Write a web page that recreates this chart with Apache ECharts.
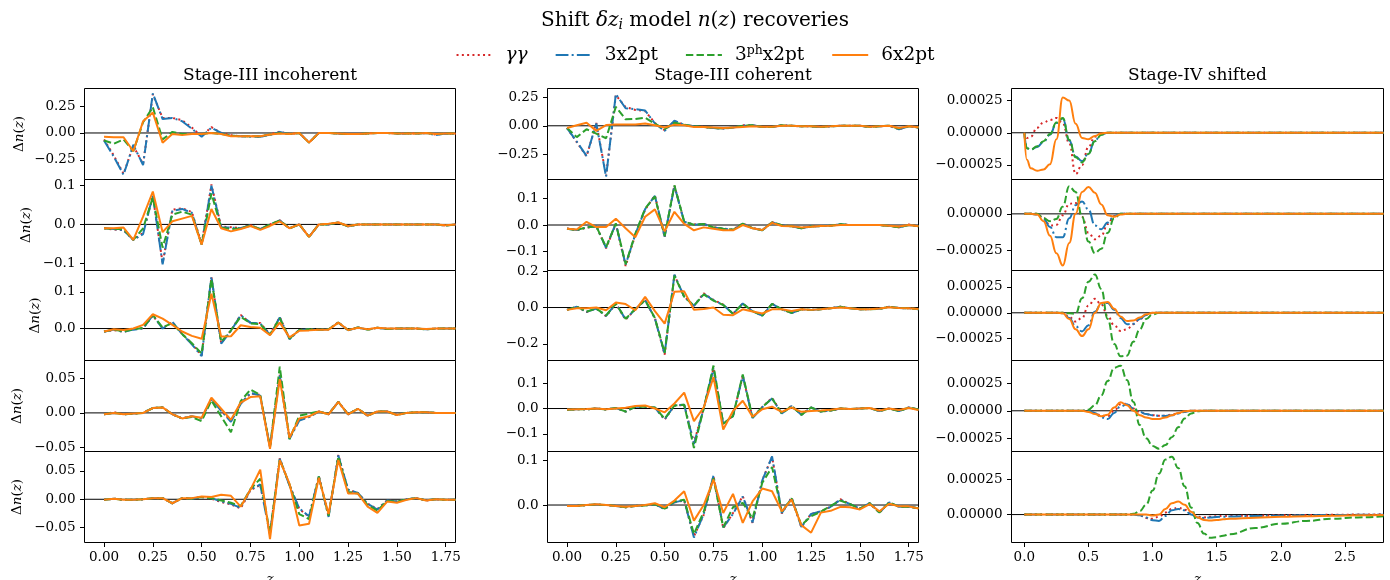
<!DOCTYPE html>
<html>
<head>
<meta charset="utf-8">
<title>Shift δz_i model n(z) recoveries</title>
<script src="https://cdn.jsdelivr.net/npm/echarts/dist/echarts.min.js"></script>
<style>
  html, body { margin: 0; padding: 0; background: #fff; }
  #chart { width: 1390px; height: 580px; }
</style>
</head>
<body>
<div id="chart"></div>
<script>
// ---------------------------------------------------------------------------
// Redshift grids
// ---------------------------------------------------------------------------
const Z_STAGE3 = [0, 0.05, 0.1, 0.15, 0.2, 0.25, 0.3, 0.35, 0.4, 0.45, 0.5, 0.55, 0.6, 0.65, 0.7, 0.75,
  0.8, 0.85, 0.9, 0.95, 1.0, 1.05, 1.1, 1.15, 1.2, 1.25, 1.3, 1.35, 1.4, 1.45, 1.5, 1.55, 1.6, 1.65,
  1.7, 1.75, 1.8];
const Z_STAGE4 = [0, 0.02, 0.05, 0.1, 0.15, 0.2, 0.25, 0.3, 0.35, 0.4, 0.45, 0.5, 0.55, 0.6, 0.65, 0.7,
  0.75, 0.8, 0.85, 0.9, 0.95, 1.0, 1.05, 1.1, 1.15, 1.2, 1.25, 1.3, 1.35, 1.4, 1.45, 1.5, 1.55, 1.6,
  1.8, 2.0, 2.2, 2.4, 2.6, 2.8];

const SERIES_NAMES = ['γγ', '3x2pt', '3phx2pt', '6x2pt'];
const COLUMN_TITLES = ['Stage-III incoherent', 'Stage-III coherent', 'Stage-IV shifted'];

// ---------------------------------------------------------------------------
// Stage-III incoherent: Δn(z) per tomographic bin (rows 1..5)
// ---------------------------------------------------------------------------
const I1_gg  = [-0.06,-0.21,-0.38,-0.12,-0.29,0.36,0.14,0.14,0.12,0.05,-0.03,0.055,0.0,-0.02,-0.03,-0.03,-0.035,-0.015,0.012,-0.01,0.0,-0.088,0.0,0.0,-0.005,-0.01,-0.01,-0.005,0.0,0.0,-0.005,-0.005,-0.005,0.0,-0.015,-0.005,-0.01];
const I1_3x  = [-0.07,-0.22,-0.39,-0.11,-0.30,0.37,0.13,0.14,0.11,0.04,-0.035,0.05,0.0,-0.025,-0.03,-0.035,-0.035,-0.02,0.01,-0.01,0.0,-0.09,0.0,0.0,-0.005,-0.01,-0.01,-0.005,0.0,0.0,-0.005,-0.005,-0.005,0.0,-0.02,-0.005,-0.01];
const I1_3ph = [-0.07,-0.10,-0.06,-0.17,0.10,0.24,-0.06,0.01,-0.01,-0.01,-0.01,0.0,-0.01,-0.025,-0.03,-0.03,-0.03,-0.015,0.0,-0.01,0.0,-0.09,0.0,0.0,-0.005,-0.01,-0.01,-0.005,0.0,0.0,-0.005,-0.005,-0.005,0.0,-0.01,-0.005,-0.005];
const I1_6x  = [-0.035,-0.04,-0.04,-0.17,0.11,0.19,-0.09,-0.01,-0.02,-0.01,-0.01,0.0,-0.01,-0.03,-0.03,-0.03,-0.03,-0.015,-0.005,-0.01,0.0,-0.09,0.0,0.0,-0.005,-0.01,-0.01,-0.005,0.0,0.0,-0.005,-0.005,-0.005,0.0,-0.01,-0.005,-0.005];

const I2_gg  = [-0.01,-0.013,-0.015,-0.04,-0.022,0.073,-0.10,0.038,0.042,0.032,-0.05,0.103,-0.006,-0.007,-0.01,-0.002,-0.012,0.0,0.011,-0.01,0.0,-0.032,0.0,0.0,0.005,-0.005,0,0,0,0,0,0,0,0,0,-0.003,0];
const I2_3x  = [-0.01,-0.012,-0.015,-0.04,-0.025,0.075,-0.103,0.035,0.04,0.03,-0.052,0.10,-0.008,-0.008,-0.01,-0.002,-0.012,0.0,0.01,-0.01,0.0,-0.032,0.0,0.0,0.005,-0.005,0,0,0,0,0,0,0,0,0,-0.003,0];
const I2_3ph = [-0.01,-0.012,-0.012,-0.04,-0.01,0.07,-0.06,0.025,0.033,0.025,-0.052,0.08,-0.008,-0.012,-0.01,-0.003,-0.012,0.0,0.01,-0.01,0.0,-0.032,0.0,0.0,0.005,-0.005,0,0,0,0,0,0,0,0,0,-0.003,0];
const I2_6x  = [-0.01,-0.01,-0.008,-0.04,0.02,0.085,-0.02,0.008,0.015,0.022,-0.052,0.04,-0.01,-0.018,-0.012,-0.004,-0.014,-0.004,0.008,-0.01,0.0,-0.032,0.0,0.002,0.005,-0.004,0,0,0,0,0,0,0,0,0,-0.002,0];

const I3_gg  = [-0.008,-0.004,-0.009,-0.002,0.001,0.035,0.001,0.018,-0.014,-0.042,-0.073,0.14,-0.04,-0.005,0.037,0.015,0.015,-0.016,0.031,-0.028,-0.004,-0.002,-0.003,-0.002,0.017,-0.005,0.003,-0.003,0.002,-0.001,0,0,0,-0.002,0,0,0];
const I3_3x  = [-0.009,-0.003,-0.009,-0.003,0.0,0.036,0.0,0.018,-0.015,-0.043,-0.075,0.141,-0.041,-0.006,0.036,0.016,0.014,-0.017,0.03,-0.029,-0.004,-0.002,-0.003,-0.002,0.016,-0.005,0.003,-0.003,0.002,-0.001,0,0,0,-0.002,0,0,0];
const I3_3ph = [-0.008,-0.003,-0.008,-0.002,0.002,0.037,0.003,0.015,-0.015,-0.04,-0.068,0.135,-0.036,-0.005,0.032,0.014,0.012,-0.017,0.028,-0.027,-0.004,-0.002,-0.003,-0.002,0.016,-0.004,0.003,-0.003,0.002,-0.001,0,0,0,-0.002,0,0,0];
const I3_6x  = [-0.008,-0.002,-0.004,0.0,0.01,0.039,0.027,0.01,-0.008,-0.02,-0.028,0.095,-0.022,-0.021,0.009,0.004,0.002,-0.018,0.016,-0.024,-0.006,-0.005,-0.003,-0.003,0.016,-0.004,0.002,-0.002,0.002,0,0,0,0,-0.001,0,0,0];

const I4_gg  = [-0.002,0.001,-0.002,-0.001,0.0,0.007,0.008,-0.002,-0.008,-0.005,-0.008,0.021,0.004,-0.012,0.014,0.028,0.026,-0.049,0.055,-0.037,-0.01,-0.006,0.002,-0.002,0.016,-0.002,0.006,-0.004,0.002,0.002,-0.003,0,0.001,0.001,0,0,0];
const I4_3x  = [-0.002,0.0,-0.002,-0.001,0.0,0.007,0.008,-0.002,-0.008,-0.005,-0.008,0.02,0.003,-0.013,0.013,0.029,0.025,-0.05,0.054,-0.038,-0.011,-0.006,0.002,-0.002,0.016,-0.002,0.006,-0.004,0.002,0.002,-0.003,0,0.001,0.001,0,0,0];
const I4_3ph = [-0.002,0.0,-0.002,-0.001,0.0,0.007,0.008,-0.002,-0.008,-0.006,-0.012,0.018,-0.005,-0.028,0.017,0.034,0.026,-0.05,0.067,-0.038,-0.004,-0.001,0.002,-0.002,0.016,-0.002,0.006,-0.004,0.002,0.002,-0.003,0,0.001,0.001,0,0,0];
const I4_6x  = [-0.002,0.0,-0.002,-0.001,0.0,0.007,0.008,-0.002,-0.008,-0.005,-0.007,0.022,0.006,-0.01,0.015,0.023,0.024,-0.052,0.049,-0.036,-0.008,-0.005,0.002,-0.002,0.016,-0.002,0.006,-0.004,0.002,0.002,-0.003,0,0.001,0.001,0,0,0];

const I5_gg  = [-0.001,0.001,-0.001,-0.001,0.0,0.002,0.002,-0.007,0.002,0.001,0.004,0.001,-0.005,-0.009,-0.016,0.016,0.025,-0.06,0.072,0.025,-0.017,-0.031,0.041,-0.03,0.078,0.016,0.011,-0.008,-0.017,-0.002,-0.004,0,0.002,-0.002,0,-0.001,-0.001];
const I5_3x  = [-0.001,0.001,-0.001,-0.001,0.0,0.002,0.002,-0.007,0.002,0.001,0.004,0.002,-0.004,-0.008,-0.015,0.017,0.026,-0.062,0.071,0.024,-0.016,-0.03,0.04,-0.031,0.077,0.017,0.011,-0.008,-0.018,-0.002,-0.004,0,0.002,-0.002,0,-0.001,-0.001];
const I5_3ph = [-0.001,0.001,-0.001,-0.001,0.0,0.002,0.002,-0.007,0.002,0.001,0.004,0.002,-0.002,-0.006,-0.012,0.018,0.036,-0.06,0.07,0.026,-0.026,-0.035,0.04,-0.029,0.075,0.013,0.01,-0.01,-0.02,-0.003,-0.004,0,0.002,-0.002,0,-0.001,-0.001];
const I5_6x  = [-0.001,0.001,-0.001,-0.001,0.0,0.002,0.002,-0.007,0.002,0.002,0.005,0.004,0.008,0.006,-0.013,0.017,0.052,-0.07,0.069,0.027,-0.046,-0.043,0.038,-0.026,0.069,0.01,0.01,-0.013,-0.024,-0.004,-0.006,-0.001,0.002,-0.002,0,-0.001,-0.001];

// ---------------------------------------------------------------------------
// Stage-III coherent
// ---------------------------------------------------------------------------
const C1_gg  = [-0.02,-0.145,-0.27,0.025,-0.44,0.27,0.165,0.14,0.13,0.025,-0.04,0.04,0.01,-0.005,-0.01,-0.02,-0.025,-0.015,0.005,0.005,-0.01,-0.01,0.005,0.0,-0.005,-0.005,-0.01,-0.005,0,0,0,-0.01,-0.005,0,-0.03,-0.005,-0.015];
const C1_3x  = [-0.02,-0.14,-0.265,0.02,-0.45,0.28,0.155,0.147,0.135,0.02,-0.045,0.045,0.008,-0.005,-0.01,-0.02,-0.025,-0.015,0.0,0.005,-0.01,-0.01,0.005,0.0,-0.005,-0.005,-0.01,-0.005,0,0,0,-0.01,-0.005,0,-0.03,-0.005,-0.015];
const C1_3ph = [-0.02,-0.10,-0.03,-0.07,-0.11,0.167,0.057,0.06,0.071,0.018,-0.03,0.027,0.01,-0.005,-0.01,-0.02,-0.025,-0.015,0.0,0.005,-0.01,-0.01,0.005,0.0,-0.005,-0.005,-0.01,-0.005,0,0,0,-0.01,-0.005,0,-0.025,-0.005,-0.015];
const C1_6x  = [-0.02,0.005,0.027,-0.045,0.006,0.012,0.012,0.012,0.02,0.005,-0.015,0.01,0.005,-0.01,-0.01,-0.015,-0.02,-0.015,-0.01,-0.005,-0.008,-0.008,0.0,0.0,-0.005,-0.005,-0.008,-0.005,0,0,0,-0.008,-0.005,0,-0.02,-0.005,-0.012];

const C2_gg  = [-0.013,-0.02,-0.01,-0.004,-0.088,0.004,-0.155,-0.037,0.058,0.112,-0.046,0.15,0.01,0.002,0.004,-0.008,-0.014,-0.017,0.006,-0.011,-0.02,0.011,-0.001,-0.005,-0.012,-0.005,-0.004,-0.003,0.003,0,0,0,0,-0.003,-0.009,0.002,-0.005];
const C2_3x  = [-0.014,-0.019,-0.009,-0.005,-0.086,0.006,-0.15,-0.035,0.06,0.11,-0.044,0.148,0.012,0.001,0.004,-0.009,-0.014,-0.018,0.004,-0.012,-0.02,0.01,-0.001,-0.005,-0.012,-0.006,-0.004,-0.003,0.003,0,0,0,0,-0.003,-0.009,0,-0.005];
const C2_3ph = [-0.014,-0.019,-0.009,-0.005,-0.084,0.006,-0.148,-0.033,0.062,0.108,-0.042,0.15,0.013,0.001,0.004,-0.009,-0.014,-0.018,0.005,-0.012,-0.02,0.01,-0.001,-0.005,-0.012,-0.006,-0.004,-0.003,0.003,0,0,0,0,-0.003,-0.009,0,-0.005];
const C2_6x  = [-0.014,-0.017,0.012,-0.008,-0.008,0.024,-0.012,-0.046,0.031,0.059,-0.024,0.05,0.004,-0.02,-0.009,-0.014,-0.02,-0.02,0.0,-0.012,-0.019,0.008,-0.004,-0.005,-0.009,-0.007,-0.004,-0.003,0,0,0,0,0,-0.003,-0.006,0,-0.005];

const C3_gg  = [-0.012,0.005,-0.025,-0.005,-0.048,0.02,-0.067,-0.01,0.04,-0.058,-0.26,0.178,0.06,0.01,0.078,0.042,0.016,-0.034,0.023,-0.019,-0.046,0.021,-0.01,-0.03,-0.01,-0.013,-0.009,-0.004,0.004,-0.004,-0.009,-0.009,-0.007,0.005,-0.003,-0.004,-0.009];
const C3_3x  = [-0.013,0.004,-0.024,-0.006,-0.046,0.022,-0.065,-0.009,0.041,-0.06,-0.256,0.181,0.059,0.009,0.075,0.04,0.015,-0.035,0.022,-0.02,-0.045,0.02,-0.01,-0.03,-0.01,-0.013,-0.009,-0.004,0.004,-0.004,-0.009,-0.009,-0.007,0.004,-0.003,-0.004,-0.009];
const C3_3ph = [-0.013,0.004,-0.022,-0.006,-0.044,0.022,-0.062,-0.008,0.04,-0.058,-0.25,0.175,0.06,0.01,0.072,0.038,0.014,-0.034,0.021,-0.02,-0.044,0.02,-0.01,-0.029,-0.01,-0.013,-0.009,-0.004,0.004,-0.004,-0.009,-0.009,-0.007,0.004,-0.003,-0.004,-0.009];
const C3_6x  = [-0.013,-0.004,-0.004,0.0,-0.015,0.028,0.019,-0.015,0.059,-0.02,-0.089,0.087,0.089,-0.012,-0.008,0.0,-0.04,-0.042,-0.01,-0.022,-0.033,-0.01,-0.01,-0.019,-0.009,-0.013,-0.009,-0.004,0.0,-0.004,-0.009,-0.009,-0.005,0.002,-0.003,-0.004,-0.008];

const C4_gg  = [-0.005,-0.003,-0.003,0.0,-0.004,0.002,-0.012,0.007,0.007,0.004,-0.044,0.011,0.014,-0.135,0.002,0.158,-0.062,-0.028,0.128,-0.036,0.006,0.042,-0.019,0.011,-0.024,0.004,-0.012,-0.008,0,-0.002,0,0.002,-0.01,0,-0.01,0.004,-0.004];
const C4_3x  = [-0.005,-0.003,-0.003,0.0,-0.004,0.002,-0.012,0.007,0.007,0.004,-0.043,0.012,0.015,-0.14,0.0,0.16,-0.06,-0.03,0.13,-0.038,0.005,0.04,-0.02,0.01,-0.025,0.004,-0.012,-0.008,0,-0.002,0,0.002,-0.01,0,-0.01,0.004,-0.004];
const C4_3ph = [-0.005,-0.003,-0.003,0.0,-0.004,0.002,-0.012,0.007,0.007,0.004,-0.04,0.012,0.015,-0.156,0.0,0.17,-0.06,-0.03,0.135,-0.035,0.005,0.04,-0.02,0.01,-0.025,0.004,-0.012,-0.008,0,-0.002,0,0.002,-0.01,0,-0.01,0.004,-0.004];
const C4_6x  = [-0.004,-0.003,-0.002,0.0,-0.003,0.0,0.003,0.01,0.012,0.0,-0.015,0.02,0.063,-0.05,0.004,0.124,-0.083,-0.01,0.031,-0.032,-0.003,0.007,-0.013,0.004,-0.013,-0.01,-0.008,-0.005,0,-0.002,0,0.002,-0.008,0,-0.006,0.002,-0.006];

const C5_gg  = [-0.002,-0.002,0.0,0.001,0.0,-0.002,-0.005,-0.002,-0.001,0.002,-0.009,0.006,0.01,-0.07,-0.022,0.065,-0.052,-0.018,0.02,-0.04,0.056,0.108,-0.019,0.017,-0.05,-0.02,-0.014,-0.004,0.013,0.002,-0.008,0.004,-0.017,0.006,-0.004,-0.004,-0.007];
const C5_3x  = [-0.002,-0.002,0.0,0.001,0.0,-0.002,-0.005,-0.002,-0.001,0.002,-0.009,0.006,0.011,-0.073,-0.02,0.066,-0.05,-0.02,0.019,-0.039,0.055,0.109,-0.018,0.016,-0.049,-0.02,-0.014,-0.004,0.012,0.002,-0.008,0.004,-0.017,0.006,-0.004,-0.004,-0.007];
const C5_3ph = [-0.002,-0.002,0.0,0.001,0.0,-0.002,-0.005,-0.002,-0.001,0.002,-0.008,0.008,0.012,-0.065,-0.015,0.06,-0.05,-0.005,0.005,-0.03,0.05,0.085,-0.015,0.015,-0.045,-0.025,-0.015,-0.002,0.01,0.002,-0.008,0.004,-0.017,0.006,-0.004,-0.004,-0.007];
const C5_6x  = [-0.002,-0.002,0.0,0.002,0.0,-0.002,-0.004,-0.002,0.0,0.004,-0.005,0.01,0.031,-0.035,0.0,0.057,-0.018,0.025,-0.04,0.008,0.037,0.031,-0.014,0.012,-0.045,-0.062,-0.017,-0.013,-0.004,-0.005,-0.01,0.002,-0.014,0.003,-0.003,-0.003,-0.008];

// ---------------------------------------------------------------------------
// Stage-IV shifted (values in units of 1e-4, on the Z_STAGE4 grid)
// ---------------------------------------------------------------------------
const STAGE4_UNIT = 1e-4;
const S1_gg  = [0,-0.4,-0.3,0.4,0.8,1.0,1.15,0.75,-0.8,-3.2,-2.5,-1.1,-0.3,-0.05,0,0,0,0,0,0,0,0,0,0,0,0,0,0,0,0,0,0,0,0,0,0,0,0,0,0];
const S1_3x  = [0,-1.2,-1.3,-1.1,-0.7,-0.15,0.75,1.1,-0.6,-1.85,-2.2,-1.6,-0.6,-0.15,0,0,0,0,0,0,0,0,0,0,0,0,0,0,0,0,0,0,0,0,0,0,0,0,0,0];
const S1_3ph = [0,-1.2,-1.3,-1.05,-0.65,-0.1,0.8,1.15,-0.55,-1.9,-2.3,-1.65,-0.65,-0.15,0,0,0,0,0,0,0,0,0,0,0,0,0,0,0,0,0,0,0,0,0,0,0,0,0,0];
const S1_6x  = [0,-2.1,-2.75,-2.95,-2.85,-2.45,-0.5,2.75,2.5,0.7,-0.4,-0.5,-0.25,-0.05,0,0,0,0,0,0,0,0,0,0,0,0,0,0,0,0,0,0,0,0,0,0,0,0,0,0];

const S2_gg  = [0,0,0,0,-0.3,-0.8,-0.75,-0.1,0.7,0.75,-0.2,-1.3,-1.75,-1.5,-0.7,-0.15,0,0,0,0,0,0,0,0,0,0,0,0,0,0,0,0,0,0,0,0,0,0,0,0];
const S2_3x  = [0,0,0,-0.05,-0.35,-0.9,-1.6,-1.6,-0.3,0.6,0.85,0.3,-0.8,-1.05,-0.6,-0.15,0,0,0,0,0,0,0,0,0,0,0,0,0,0,0,0,0,0,0,0,0,0,0,0];
const S2_3ph = [0,0,0,0,-0.3,-0.5,-0.35,0.5,1.9,1.5,-0.2,-1.9,-2.7,-2.4,-1.3,-0.3,0,0,0,0,0,0,0,0,0,0,0,0,0,0,0,0,0,0,0,0,0,0,0,0];
const S2_6x  = [0,0,0,-0.05,-0.5,-1.5,-2.7,-3.55,-2.0,0.0,1.5,1.85,1.45,0.65,-0.1,-0.2,-0.05,0,0,0,0,0,0,0,0,0,0,0,0,0,0,0,0,0,0,0,0,0,0,0];

const S3_gg  = [0,0,0,0,0,0,0,0,-0.4,-0.85,-0.5,0.7,1.35,0.8,-0.3,-1.2,-1.75,-1.6,-1.1,-0.6,-0.2,0,0,0,0,0,0,0,0,0,0,0,0,0,0,0,0,0,0,0];
const S3_3x  = [0,0,0,0,0,0,0,-0.05,-0.5,-1.3,-1.8,-1.2,0.1,0.9,0.95,0.3,-0.5,-1.1,-1.05,-0.6,-0.2,0,0,0,0,0,0,0,0,0,0,0,0,0,0,0,0,0,0,0];
const S3_3ph = [0,0,0,0,0,0,0,0,-0.05,-0.1,1.4,3.0,3.7,2.3,-0.6,-3.0,-4.2,-4.15,-2.8,-1.6,-0.6,-0.15,0,0,0,0,0,0,0,0,0,0,0,0,0,0,0,0,0,0];
const S3_6x  = [0,0,0,0,0,0,0,-0.05,-0.6,-1.6,-2.25,-1.6,0.0,0.95,1.05,0.4,-0.35,-0.8,-0.75,-0.45,-0.15,0,0,0,0,0,0,0,0,0,0,0,0,0,0,0,0,0,0,0];

const S4_gg  = [0,0,0,0,0,0,0,0,0,0,0,0,-0.2,-0.45,-0.5,0.0,0.6,0.65,0.2,-0.1,-0.3,-0.4,-0.45,-0.45,-0.35,-0.2,-0.08,0,0,0,0,0,0,0,0,0,0,0,0,0];
const S4_3x  = [0,0,0,0,0,0,0,0,0,0,0,0,-0.2,-0.6,-0.75,-0.2,0.4,0.6,0.2,-0.1,-0.3,-0.4,-0.45,-0.47,-0.4,-0.25,-0.1,0,0,0,0,0,0,0,0,0,0,0,0,0];
const S4_3ph = [0,0,0,0,0,0,0,0,0,0,0,0.1,0.5,1.4,2.7,3.9,4.1,2.8,0.8,-1.3,-2.5,-3.2,-3.45,-3.1,-2.4,-1.5,-0.7,-0.25,-0.05,0,0,0,0,0,0,0,0,0,0,0];
const S4_6x  = [0,0,0,0,0,0,0,0,0,0,0,-0.1,-0.3,-0.5,-0.35,0.3,0.78,0.5,0.0,-0.4,-0.6,-0.75,-0.75,-0.6,-0.4,-0.2,-0.05,0,0,0,0,0,0,0,0,0,0,0,0,0];

const S5_gg  = [0,0,0,0,0,0,0,0,0,0,0,0,0,0,0,0,0,0,0,-0.05,-0.25,-0.3,-0.15,0.15,0.4,0.48,0.35,0.05,-0.15,-0.2,-0.15,-0.12,-0.1,-0.1,-0.08,-0.05,-0.03,-0.02,0.0,0.02];
const S5_3x  = [0,0,0,0,0,0,0,0,0,0,0,0,0,0,0,0,0,0,0,-0.05,-0.2,-0.4,-0.45,-0.1,0.3,0.4,0.3,0.0,-0.2,-0.25,-0.2,-0.17,-0.15,-0.14,-0.1,-0.07,-0.05,-0.03,-0.02,-0.01];
const S5_3ph = [0,0,0,0,0,0,0,0,0,0,0,0,0,0,0,0,0,0,0.05,0.25,0.7,1.7,2.9,3.9,4.1,3.3,2.0,0.5,-0.6,-1.35,-1.65,-1.6,-1.5,-1.4,-0.95,-0.65,-0.45,-0.3,-0.2,-0.12];
const S5_6x  = [0,0,0,0,0,0,0,0,0,0,0,0,0,0,0,0,0,0,0,0,0,-0.07,0.0,0.4,0.8,0.92,0.7,0.2,-0.2,-0.38,-0.42,-0.38,-0.34,-0.3,-0.22,-0.16,-0.12,-0.08,-0.05,-0.03];

// Tick labels
const X_TICKS = [
  [0, 0.25, 0.5, 0.75, 1.0, 1.25, 1.5, 1.75],
  [0, 0.25, 0.5, 0.75, 1.0, 1.25, 1.5, 1.75],
  [0, 0.5, 1.0, 1.5, 2.0, 2.5]
];
const Y_TICKS = [
  [[-0.25, 0, 0.25], [-0.1, 0, 0.1], [0, 0.1], [-0.05, 0, 0.05], [-0.05, 0, 0.05]],
  [[-0.25, 0, 0.25], [-0.1, 0, 0.1], [-0.2, 0, 0.2], [-0.1, 0, 0.1], [0, 0.1]],
  [[-0.00025, 0, 0.00025], [-0.00025, 0], [-0.00025, 0, 0.00025], [-0.00025, 0, 0.00025], [0, 0.00025]]
];

// ---------------------------------------------------------------------------
// Layout and styling
// ---------------------------------------------------------------------------
const FONT = 'DejaVu Serif';
const TICK_FONT_SIZE = 13.5;
const COL_LEFT = [84.5, 547.5, 1011.5];
const COL_WIDTH = [371, 371, 372];
const ROW_TOP = [88.5, 179.5, 270.5, 360.5, 451.5];
const ROW_HEIGHT = [91, 91, 90, 91, 91];
const X_RANGE = [[-0.1, 1.8], [-0.1, 1.8], [-0.1, 2.8]];
const Y_RANGE = [
  [[-0.434, 0.415], [-0.119, 0.116], [-0.087, 0.158], [-0.056, 0.076], [-0.076, 0.084]],
  [[-0.474, 0.329], [-0.172, 0.172], [-0.292, 0.204], [-0.17, 0.19], [-0.084, 0.12]],
  [[-3.63e-4, 3.44e-4], [-3.89e-4, 2.36e-4], [-4.61e-4, 4.09e-4], [-3.7e-4, 4.57e-4], [-1.98e-4, 4.47e-4]]
];
const X_DIGITS = [2, 2, 1];
const Y_DIGITS = [[2, 1, 1, 2, 2], [2, 1, 1, 1, 1], [5, 5, 5, 5, 5]];
const YLABEL_GAP = [58, 51, 42, 60, 60];

const COLORS = ['#d62728', '#1f77b4', '#2ca02c', '#ff7f0e'];
const LINE_TYPES = [[2, 3.3], [12.8, 3.2, 2, 3.2], [7.4, 3.2], 'solid'];
const LINE_WIDTH = 2;

const COLUMNS = [
  { z: Z_STAGE3, unit: 1, smooth: false, rows: [
    [I1_gg, I1_3x, I1_3ph, I1_6x], [I2_gg, I2_3x, I2_3ph, I2_6x], [I3_gg, I3_3x, I3_3ph, I3_6x],
    [I4_gg, I4_3x, I4_3ph, I4_6x], [I5_gg, I5_3x, I5_3ph, I5_6x]] },
  { z: Z_STAGE3, unit: 1, smooth: false, rows: [
    [C1_gg, C1_3x, C1_3ph, C1_6x], [C2_gg, C2_3x, C2_3ph, C2_6x], [C3_gg, C3_3x, C3_3ph, C3_6x],
    [C4_gg, C4_3x, C4_3ph, C4_6x], [C5_gg, C5_3x, C5_3ph, C5_6x]] },
  { z: Z_STAGE4, unit: STAGE4_UNIT, smooth: 0.45, rows: [
    [S1_gg, S1_3x, S1_3ph, S1_6x], [S2_gg, S2_3x, S2_3ph, S2_6x], [S3_gg, S3_3x, S3_3ph, S3_6x],
    [S4_gg, S4_3x, S4_3ph, S4_6x], [S5_gg, S5_3x, S5_3ph, S5_6x]] }
];

function tickFormatter(digits) {
  return function (v) {
    const s = Math.abs(v).toFixed(digits);
    return (v < -1e-12 ? '\u2212' : '') + s;
  };
}

const textRich = {
  r: { fontFamily: FONT, fontSize: TICK_FONT_SIZE, color: '#000' },
  i: { fontFamily: FONT, fontSize: TICK_FONT_SIZE, fontStyle: 'italic', color: '#000' }
};

const grids = [], xAxes = [], yAxes = [], series = [];

COLUMNS.forEach(function (col, c) {
  col.rows.forEach(function (rowSeries, r) {
    const idx = grids.length;
    const bottomRow = r === col.rows.length - 1;
    grids.push({
      left: COL_LEFT[c], top: ROW_TOP[r], width: COL_WIDTH[c], height: ROW_HEIGHT[r],
      show: true, borderColor: '#000', borderWidth: 1, backgroundColor: 'transparent',
      containLabel: false, outerBoundsMode: 'none'
    });
    xAxes.push({
      type: 'value', gridIndex: idx, min: X_RANGE[c][0], max: X_RANGE[c][1],
      axisLine: { show: false, onZero: false }, splitLine: { show: false },
      axisTick: { show: bottomRow, customValues: X_TICKS[c], length: 4.5, lineStyle: { color: '#000', width: 1 } },
      axisLabel: { show: bottomRow, customValues: X_TICKS[c], formatter: tickFormatter(X_DIGITS[c]),
        margin: 8, fontFamily: FONT, fontSize: TICK_FONT_SIZE, color: '#000' },
      name: bottomRow ? '{i|z}' : '', nameLocation: 'middle', nameGap: 30,
      nameTextStyle: { rich: textRich }
    });
    yAxes.push({
      type: 'value', gridIndex: idx, min: Y_RANGE[c][r][0], max: Y_RANGE[c][r][1],
      axisLine: { show: false, onZero: false }, splitLine: { show: false },
      axisTick: { show: true, customValues: Y_TICKS[c][r], length: 4.5, lineStyle: { color: '#000', width: 1 } },
      axisLabel: { show: true, customValues: Y_TICKS[c][r], formatter: tickFormatter(Y_DIGITS[c][r]),
        margin: 9, fontFamily: FONT, fontSize: TICK_FONT_SIZE, color: '#000' },
      name: c === 0 ? '{r|\u0394}{i|n}{r|(}{i|z}{r|)}' : '',
      nameLocation: 'middle', nameRotate: 90, nameGap: YLABEL_GAP[r],
      nameTextStyle: { rich: textRich }
    });
    // zero reference line across the panel
    series.push({
      type: 'line', name: 'zero', xAxisIndex: idx, yAxisIndex: idx, silent: true,
      data: [[X_RANGE[c][0], 0], [X_RANGE[c][1], 0]], symbol: 'none',
      lineStyle: { color: '#000', width: 1 }, z: 1, animation: false
    });
    rowSeries.forEach(function (vals, k) {
      series.push({
        type: 'line', name: SERIES_NAMES[k], xAxisIndex: idx, yAxisIndex: idx,
        data: vals.map(function (v, i) { return [col.z[i], v * col.unit]; }),
        symbol: 'none', showSymbol: false, smooth: col.smooth, smoothMonotone: 'x',
        clip: true, z: 2 + k, animation: false,
        itemStyle: { color: COLORS[k] },
        lineStyle: { color: COLORS[k], width: LINE_WIDTH, type: LINE_TYPES[k], cap: 'butt' }
      });
    });
  });
});

const titleGraphics = COLUMN_TITLES.map(function (t, c) {
  return {
    type: 'text', x: COL_LEFT[c] + COL_WIDTH[c] / 2, y: 76, silent: true,
    style: { text: t, fontFamily: FONT, fontSize: 17, fill: '#000', align: 'center', verticalAlign: 'middle' }
  };
});

titleGraphics.push({
  type: 'text', x: 695, y: 21, silent: true,
  style: {
    text: '{r|Shift }{i|\u03b4z}{s|i}{r| model }{i|n}{r|(}{i|z}{r|) recoveries}',
    align: 'center', verticalAlign: 'middle', fill: '#000',
    rich: {
      r: { fontFamily: FONT, fontSize: 20, fill: '#000' },
      i: { fontFamily: FONT, fontSize: 20, fontStyle: 'italic', fill: '#000' },
      s: { fontFamily: FONT, fontSize: 14, fontStyle: 'italic', fill: '#000', padding: [9, 0, 0, 0] }
    }
  }
});

const option = {
  backgroundColor: '#fff',
  animation: false,
  grid: grids,
  xAxis: xAxes,
  yAxis: yAxes,
  series: series,
  legend: {
    data: SERIES_NAMES,
    left: 'center', top: 39,
    itemWidth: 36, itemHeight: 14, itemGap: 27,
    itemStyle: { opacity: 0, color: 'transparent', borderWidth: 0 },
    formatter: function (name) {
      if (name === 'γγ') return '{it|γγ}';
      if (name === '3phx2pt') return '{n|3}{sup|ph}{n|x2pt}';
      return '{n|' + name + '}';
    },
    textStyle: {
      padding: [0, 0, 0, 8],
      fontFamily: FONT, fontSize: 18.5, color: '#000',
      rich: {
        n: { fontFamily: FONT, fontSize: 18.5, color: '#000' },
        it: { fontFamily: FONT, fontSize: 18.5, fontStyle: 'italic', color: '#000' },
        sup: { fontFamily: FONT, fontSize: 12.5, color: '#000', padding: [0, 0, 9, 0] }
      }
    }
  },
  graphic: titleGraphics
};

const chart = echarts.init(document.getElementById('chart'), null, { renderer: 'canvas' });
chart.setOption(option);
</script>
</body>
</html>
